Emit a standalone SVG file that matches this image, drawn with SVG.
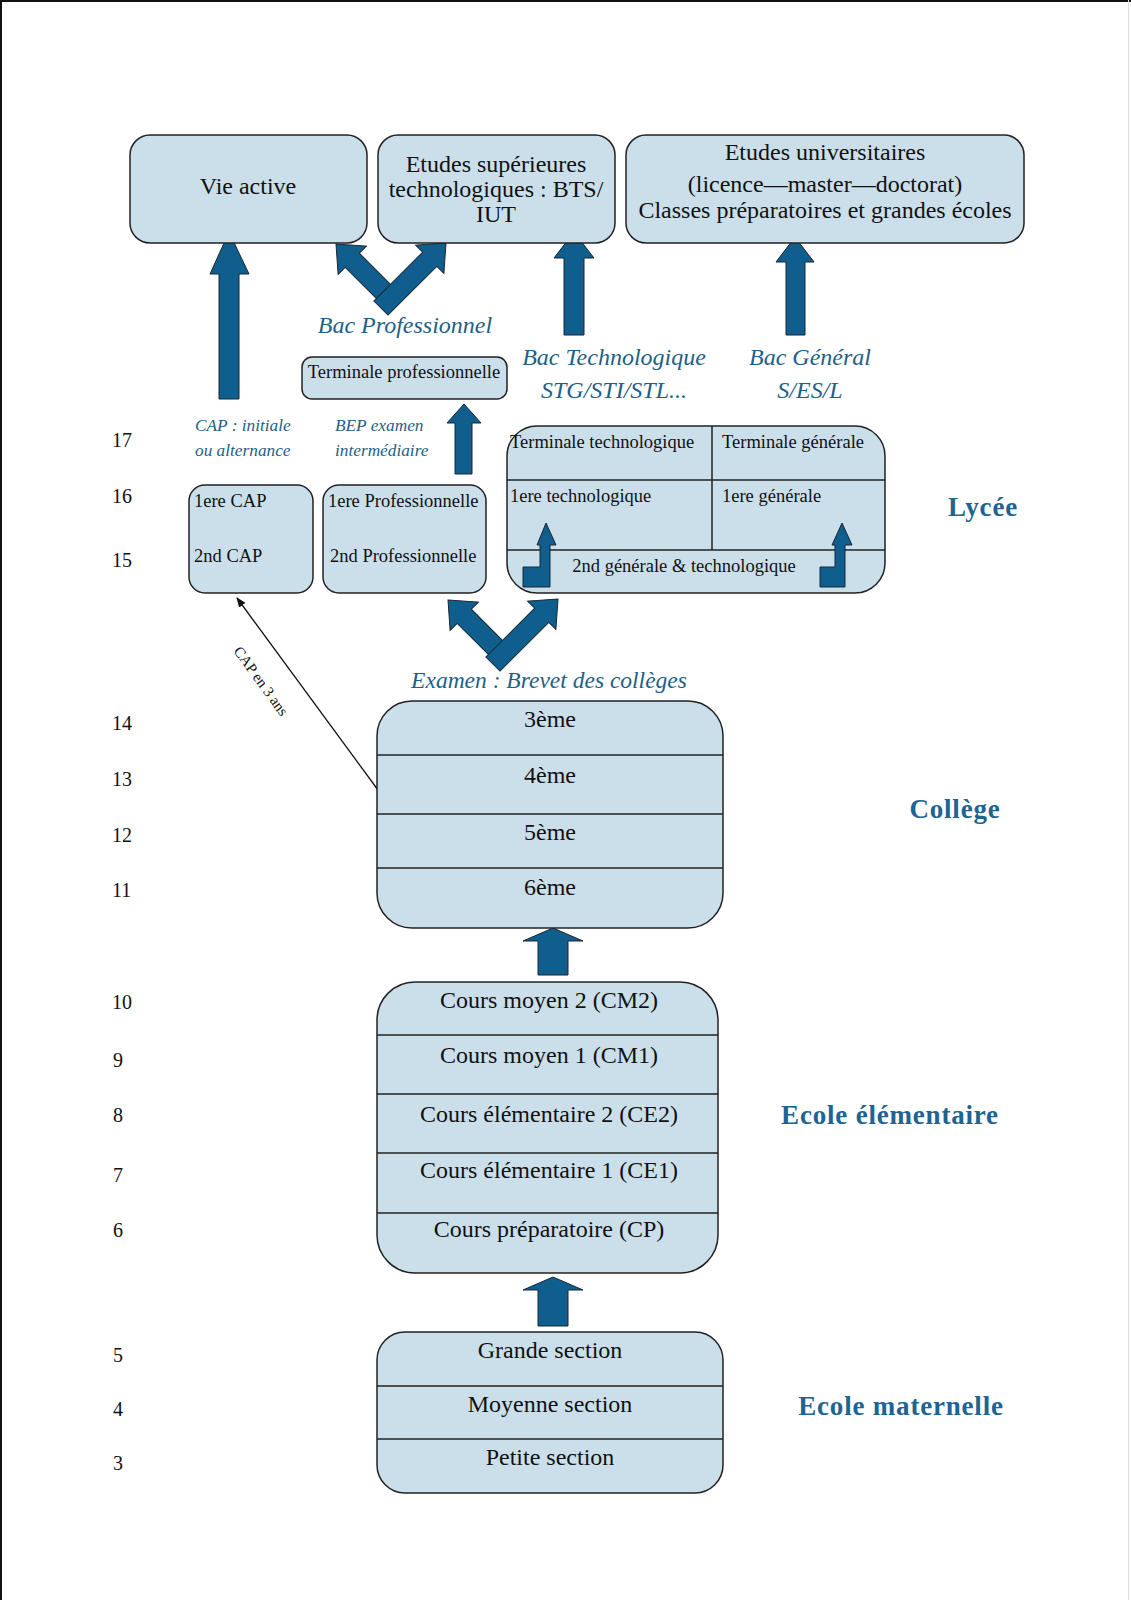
<svg xmlns="http://www.w3.org/2000/svg" width="1131" height="1600" viewBox="0 0 1131 1600">
<style>
.box{fill:#cbdfeb;stroke:#222;stroke-width:1.5}
.div{stroke:#222;stroke-width:1.5;fill:none}
.arr{fill:#0f5e8e;stroke:#1a2632;stroke-width:1}
.t{font-family:"Liberation Serif",serif;fill:#111}
.c{text-anchor:middle}
.big{font-size:24px}
.sm{font-size:18.5px}
.it{font-family:"Liberation Serif",serif;font-style:italic;fill:#1d5f88}
.sec{font-family:"Liberation Serif",serif;font-weight:bold;fill:#1d6494;font-size:27px;letter-spacing:0.8px;text-anchor:middle}
.age{font-family:"Liberation Serif",serif;font-size:20px;fill:#111}
</style>
<defs>
<polygon id="varr" points="0,0 20,23 10,23 10,80 -10,80 -10,23 -20,23"/>
<polygon id="varrL" points="0,0 20,23 10,23 10,92 -10,92 -10,23 -20,23"/>
<marker id="ah" markerWidth="10" markerHeight="8" refX="9" refY="4" orient="auto" markerUnits="userSpaceOnUse"><path d="M0,0 L10,4 L0,8 z" fill="#111"/></marker>
</defs>
<rect x="0" y="0" width="1131" height="1600" fill="#fff"/>
<line x1="0" y1="1" x2="1131" y2="1" stroke="#111" stroke-width="2"/>
<line x1="1" y1="0" x2="1" y2="1600" stroke="#111" stroke-width="2"/>
<line x1="1128.5" y1="0" x2="1128.5" y2="1600" stroke="#ddd" stroke-width="1"/>

<g id="connectors">
<polygon class="arr" points="229,232 249,274 239,274 239,399 219,399 219,274 210,274"/>
<polygon class="arr" points="574,232 594,258 584,258 584,335 564,335 564,258 554,258"/>
<polygon class="arr" points="795,237 814,262 805,262 805,335 786,335 786,262 776,262"/>
<polygon class="arr" points="464,404 481,423 472,423 472,474 455,474 455,423 447,423"/>
<use href="#varr" class="arr" transform="translate(336,244) rotate(-45)"/>
<use href="#varrL" class="arr" transform="translate(446,243) rotate(45)"/>
<use href="#varr" class="arr" transform="translate(448,600) rotate(-45)"/>
<use href="#varrL" class="arr" transform="translate(558,599) rotate(45)"/>
<polygon class="arr" points="553,928 583,941 568,941 568,975 538,975 538,941 523,941"/>
<polygon class="arr" points="553,1277 583,1290 568,1290 568,1326 538,1326 538,1290 523,1290"/>
<line x1="378" y1="790" x2="237" y2="598" stroke="#111" stroke-width="1.3" marker-end="url(#ah)"/>
<text class="t" font-size="15" transform="translate(257,684) rotate(54)" text-anchor="middle">CAP en 3 ans</text>
</g>

<g id="vie-active">
<rect class="box" x="130" y="135" width="237" height="108" rx="20"/>
<text class="t big c" x="248" y="194">Vie active</text>
</g>
<g id="etudes-sup">
<rect class="box" x="378" y="135" width="237" height="108" rx="20"/>
<text class="t big c" x="496" y="172">Etudes supérieures</text>
<text class="t big c" x="496" y="197">technologiques : BTS/</text>
<text class="t big c" x="496" y="222">IUT</text>
</g>
<g id="etudes-univ">
<rect class="box" x="626" y="135" width="398" height="108" rx="20"/>
<text class="t big c" x="825" y="160">Etudes universitaires</text>
<text class="t big c" x="825" y="192">(licence—master—doctorat)</text>
<text class="t big c" x="825" y="218">Classes préparatoires et grandes écoles</text>
</g>

<g id="labels">
<text class="it c" font-size="24" x="405" y="333">Bac Professionnel</text>
<text class="it c" font-size="24" x="614" y="365">Bac Technologique</text>
<text class="it c" font-size="24" x="614" y="398">STG/STI/STL...</text>
<text class="it c" font-size="24" x="810" y="365">Bac Général</text>
<text class="it c" font-size="24" x="810" y="398">S/ES/L</text>
<text class="it" font-size="17.3" x="195" y="431">CAP : initiale</text>
<text class="it" font-size="17.3" x="195" y="456">ou alternance</text>
<text class="it" font-size="17.3" x="335" y="431">BEP examen</text>
<text class="it" font-size="17.3" x="335" y="456">intermédiaire</text>
<text class="it c" font-size="23.5" x="549" y="688">Examen : Brevet des collèges</text>
</g>

<g id="terminale-pro">
<rect class="box" x="302" y="357" width="205" height="42" rx="10"/>
<text class="t sm c" x="404" y="378">Terminale professionnelle</text>
</g>
<g id="cap">
<rect class="box" x="189" y="485" width="124" height="108" rx="16"/>
<text class="t sm" x="194" y="507">1ere CAP</text>
<text class="t sm" x="194" y="562">2nd CAP</text>
</g>
<g id="pro">
<rect class="box" x="323" y="485" width="163" height="108" rx="16"/>
<text class="t sm" x="328" y="507">1ere Professionnelle</text>
<text class="t sm" x="330" y="562">2nd Professionnelle</text>
</g>
<g id="lycee-gt">
<rect class="box" x="507" y="426" width="378" height="167" rx="30"/>
<line class="div" x1="507" y1="480" x2="885" y2="480"/>
<line class="div" x1="507" y1="550" x2="885" y2="550"/>
<line class="div" x1="712" y1="426" x2="712" y2="550"/>
<text class="t sm" x="510" y="448">Terminale technologique</text>
<text class="t sm" x="722" y="448">Terminale générale</text>
<text class="t sm" x="510" y="502">1ere technologique</text>
<text class="t sm" x="722" y="502">1ere générale</text>
<text class="t sm c" x="684" y="572">2nd générale &amp; technologique</text>
<polygon class="arr" points="523,567 540,567 540,545 537,545 546,523 556,545 550,545 550,587 523,587"/>
<polygon class="arr" points="820,567 835,567 835,545 832,545 842,523 852,545 845,545 845,587 820,587"/>
</g>

<g id="college">
<rect class="box" x="377" y="701" width="346" height="227" rx="35"/>
<line class="div" x1="377" y1="755" x2="723" y2="755"/>
<line class="div" x1="377" y1="814" x2="723" y2="814"/>
<line class="div" x1="377" y1="868" x2="723" y2="868"/>
<text class="t big c" x="550" y="727">3ème</text>
<text class="t big c" x="550" y="783">4ème</text>
<text class="t big c" x="550" y="840">5ème</text>
<text class="t big c" x="550" y="895">6ème</text>
</g>

<g id="elementaire">
<rect class="box" x="377" y="982" width="341" height="291" rx="38"/>
<line class="div" x1="377" y1="1035" x2="718" y2="1035"/>
<line class="div" x1="377" y1="1094" x2="718" y2="1094"/>
<line class="div" x1="377" y1="1153" x2="718" y2="1153"/>
<line class="div" x1="377" y1="1213" x2="718" y2="1213"/>
<text class="t big c" x="549" y="1008">Cours moyen 2 (CM2)</text>
<text class="t big c" x="549" y="1063">Cours moyen 1 (CM1)</text>
<text class="t big c" x="549" y="1122">Cours élémentaire 2 (CE2)</text>
<text class="t big c" x="549" y="1178">Cours élémentaire 1 (CE1)</text>
<text class="t big c" x="549" y="1237">Cours préparatoire (CP)</text>
</g>

<g id="maternelle">
<rect class="box" x="377" y="1332" width="346" height="161" rx="28"/>
<line class="div" x1="377" y1="1386" x2="723" y2="1386"/>
<line class="div" x1="377" y1="1439" x2="723" y2="1439"/>
<text class="t big c" x="550" y="1358">Grande section</text>
<text class="t big c" x="550" y="1412">Moyenne section</text>
<text class="t big c" x="550" y="1465">Petite section</text>
</g>

<g id="sections">
<text class="sec" x="983" y="516">Lycée</text>
<text class="sec" x="955" y="818">Collège</text>
<text class="sec" x="890" y="1124">Ecole élémentaire</text>
<text class="sec" x="901" y="1415">Ecole maternelle</text>
</g>

<g id="ages">
<text class="age" x="112" y="447">17</text>
<text class="age" x="112" y="503">16</text>
<text class="age" x="112" y="567">15</text>
<text class="age" x="112" y="730">14</text>
<text class="age" x="112" y="786">13</text>
<text class="age" x="112" y="842">12</text>
<text class="age" x="112" y="897">11</text>
<text class="age" x="112" y="1009">10</text>
<text class="age" x="113" y="1067">9</text>
<text class="age" x="113" y="1122">8</text>
<text class="age" x="113" y="1182">7</text>
<text class="age" x="113" y="1237">6</text>
<text class="age" x="113" y="1362">5</text>
<text class="age" x="113" y="1416">4</text>
<text class="age" x="113" y="1470">3</text>
</g>
</svg>
